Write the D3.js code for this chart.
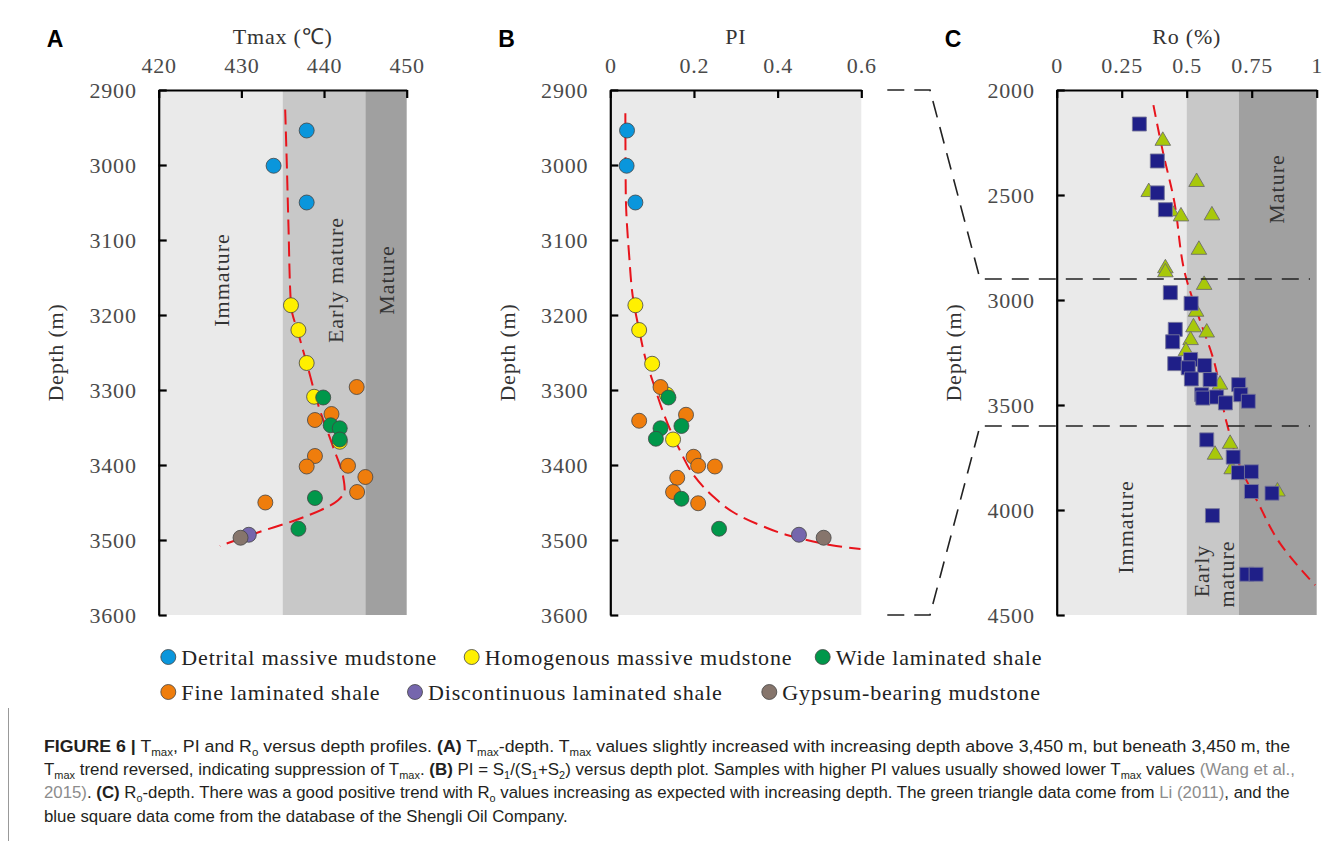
<!DOCTYPE html>
<html>
<head>
<meta charset="utf-8">
<script src="https://d3js.org/d3.v7.min.js"></script>
<style>
body { margin: 0; background: #fff; }
svg text { font-family: "Liberation Serif", "Times New Roman", serif; }
.tk text { font-size: 22px; fill: #4a4a4a; letter-spacing: 0.8px; }
.zone { font-size: 22px; fill: #333; letter-spacing: 1px; }
.cap text { font-family: "Liberation Sans Narrow", "Liberation Sans", Arial, sans-serif; }
</style>
</head>
<body>
<script>
// ---- data ----
const lithology = ["Detrital massive mudstone", "Homogenous massive mudstone", "Wide laminated shale",
                   "Fine laminated shale", "Discontinuous laminated shale", "Gypsum-bearing mudstone"];

// [lithology index, Tmax (C), depth (m)]
const tmaxSamples = [
  [0, 437.9, 2954], [0, 433.9, 3001], [0, 437.9, 3050],
  [1, 436.0, 3187], [1, 436.9, 3220], [1, 437.9, 3264], [1, 438.8, 3309], [1, 441.9, 3369],
  [3, 443.95, 3296], [3, 440.9, 3332], [3, 438.9, 3340], [3, 438.9, 3388], [3, 437.9, 3402],
  [3, 442.9, 3401], [3, 445.0, 3416], [3, 444.0, 3436], [3, 432.9, 3450],
  [2, 439.9, 3310], [2, 440.8, 3347], [2, 441.9, 3351], [2, 441.9, 3366], [2, 438.9, 3444], [2, 436.9, 3485],
  [4, 430.9, 3493], [5, 429.9, 3497]
];
// [lithology index, PI, depth (m)]
const piSamples = [
  [0, 0.040, 2954], [0, 0.039, 3001], [0, 0.060, 3050],
  [1, 0.060, 3187], [1, 0.069, 3220], [1, 0.100, 3265], [1, 0.135, 3306], [1, 0.150, 3366],
  [3, 0.120, 3296], [3, 0.181, 3333], [3, 0.069, 3341], [3, 0.199, 3389], [3, 0.210, 3401],
  [3, 0.250, 3402], [3, 0.160, 3417], [3, 0.150, 3436], [3, 0.210, 3451],
  [2, 0.139, 3310], [2, 0.120, 3351], [2, 0.170, 3348], [2, 0.109, 3365], [2, 0.170, 3445], [2, 0.260, 3485],
  [4, 0.451, 3493], [5, 0.510, 3497]
];
// Ro (%) vs depth: Li (2011) triangles, Shengli Oil Company squares
const roLi = [
  [0.408, 2242], [0.538, 2438], [0.354, 2486], [0.440, 2578], [0.478, 2602], [0.597, 2597],
  [0.547, 2761], [0.418, 2849], [0.418, 2868], [0.567, 2928], [0.536, 3056], [0.526, 3130],
  [0.577, 3155], [0.515, 3191], [0.497, 3244], [0.628, 3403], [0.667, 3685], [0.609, 3737],
  [0.673, 3806], [0.849, 3912]
];
const roShengli = [
  [0.318, 2162], [0.387, 2338], [0.387, 2490], [0.418, 2570], [0.437, 2965], [0.517, 3016],
  [0.456, 3140], [0.446, 3199], [0.515, 3283], [0.454, 3303], [0.506, 3323], [0.569, 3312],
  [0.518, 3376], [0.590, 3379], [0.700, 3403], [0.708, 3451], [0.558, 3451], [0.562, 3467],
  [0.615, 3462], [0.649, 3490], [0.737, 3482], [0.577, 3666], [0.679, 3748], [0.699, 3822],
  [0.749, 3818], [0.749, 3912], [0.828, 3920], [0.599, 4027], [0.731, 4306], [0.767, 4306]
];
// dashed trend lines [value, depth]
const trendTmax = [[435.3, 2926], [435.5, 3000], [435.7, 3082], [436.0, 3187], [436.9, 3225], [437.9, 3264],
  [439.3, 3320], [441.1, 3376], [442.3, 3415], [442.5, 3433], [441.7, 3447], [436.7, 3473], [432.0, 3490], [427.4, 3508]];
const trendPI = [[0.036, 2931], [0.037, 3038], [0.045, 3120], [0.055, 3180], [0.069, 3220], [0.085, 3260],
  [0.103, 3291], [0.130, 3335], [0.166, 3380], [0.200, 3414], [0.246, 3442], [0.300, 3465], [0.366, 3482],
  [0.420, 3493], [0.485, 3502], [0.540, 3508], [0.598, 3512]];
const trendRo = [[0.372, 2072], [0.410, 2303], [0.449, 2510], [0.497, 2892], [0.545, 3076], [0.603, 3283],
  [0.654, 3586], [0.705, 3793], [0.769, 3952], [0.859, 4159], [0.994, 4358]];

// maturity zones [from, to, name]
const tmaxZones = [[420, 435, "Immature"], [435, 445, "Early mature"], [445, 450, "Mature"]];
const roZones = [[0, 0.5, "Immature"], [0.5, 0.7, "Early mature"], [0.7, 1, "Mature"]];

const tmaxTicks = [420, 430, 440, 450];
const piTicks = [0, 0.2, 0.4, 0.6];
const roTicks = [0, 0.25, 0.5, 0.75, 1];
const depthTicksAB = [2900, 3000, 3100, 3200, 3300, 3400, 3500, 3600];
const depthTicksC = [2000, 2500, 3000, 3500, 4000, 4500];

// caption segments: b bold, s subscript, l citation
const caption = [
  [["FIGURE 6 |", "b"], [" T", ""], ["max", "s"], [", PI and R", ""], ["o", "s"], [" versus depth profiles. ", ""], ["(A)", "b"],
   [" T", ""], ["max", "s"], ["-depth. T", ""], ["max", "s"], [" values slightly increased with increasing depth above 3,450 m, but beneath 3,450 m, the", ""]],
  [["T", ""], ["max", "s"], [" trend reversed, indicating suppression of T", ""], ["max", "s"], [". ", ""], ["(B)", "b"], [" PI = S", ""], ["1", "s"],
   ["/(S", ""], ["1", "s"], ["+S", ""], ["2", "s"], [") versus depth plot. Samples with higher PI values usually showed lower T", ""], ["max", "s"],
   [" values ", ""], ["(Wang et al.,", "l"]],
  [["2015)", "l"], [". ", ""], ["(C)", "b"], [" R", ""], ["o", "s"], ["-depth. There was a good positive trend with R", ""], ["o", "s"],
   [" values increasing as expected with increasing depth. The green triangle data come from ", ""], ["Li (2011)", "l"], [", and the", ""]],
  [["blue square data come from the database of the Shengli Oil Company.", ""]]
];

// ---- drawing ----
const W = 1342, H = 841;
const top0 = 90, bot0 = 615;
const lithColor = d3.scaleOrdinal().domain(d3.range(6))
  .range(["#0a96dc", "#fff000", "#00974a", "#ef7d0c", "#7566ad", "#86756c"]);
const zoneFill = ["#eaeaea", "#c8c8c8", "#a0a0a0"];

const svg = d3.select("body").append("svg").attr("width", W).attr("height", H);
svg.append("rect").attr("width", W).attr("height", H).attr("fill", "#fff");

function panel(o) {
  const x = d3.scaleLinear().domain(o.domain).range([o.x0, o.x1]);
  const y = d3.scaleLinear().domain(o.depth).range([top0, bot0]);
  const g = svg.append("g");
  // background zones
  g.selectAll("rect.z").data(o.zones).join("rect")
    .attr("x", d => x(d[0])).attr("width", d => x(d[1]) - x(d[0]))
    .attr("y", top0).attr("height", bot0 - top0)
    .attr("fill", (d, i) => o.zones.length === 1 ? zoneFill[0] : zoneFill[i]);
  // axes
  const ax = g.append("g").attr("class", "tk").attr("transform", `translate(0,${top0})`)
    .call(d3.axisTop(x).tickValues(o.ticks).tickFormat(d => String(d)).tickSizeInner(-8).tickSizeOuter(0).tickPadding(17));
  const ay = g.append("g").attr("class", "tk").attr("transform", `translate(${o.x0},0)`)
    .call(d3.axisLeft(y).tickValues(o.depthTicks).tickFormat(d => String(d)).tickSizeInner(-8).tickSizeOuter(0).tickPadding(22));
  [ax, ay].forEach(a => {
    a.select(".domain").attr("stroke", "#000").attr("stroke-width", 2.2);
    a.selectAll(".tick line").attr("stroke", "#000").attr("stroke-width", 2.2);
  });
  // titles
  g.append("text").attr("x", (o.x0 + o.x1) / 2).attr("y", 44).attr("text-anchor", "middle")
    .style("font-size", "22px").style("fill", "#333").style("letter-spacing", "0.8px").text(o.title);
  g.append("text").attr("transform", `translate(${o.x0 - 103},${(top0 + bot0) / 2}) rotate(-90)`)
    .attr("text-anchor", "middle").attr("dominant-baseline", "central")
    .style("font-size", "22px").style("fill", "#333").style("letter-spacing", "0.8px").text("Depth (m)");
  g.append("text").attr("x", o.x0 - 112).attr("y", 47)
    .style("font-family", "'Liberation Sans', Arial, sans-serif").style("font-weight", "bold")
    .style("font-size", "23px").text(o.letter);
  return { g, x, y };
}

const line = (x, y) => d3.line().x(d => x(d[0])).y(d => y(d[1])).curve(d3.curveMonotoneY);

// Panel A
const A = panel({ x0: 158.7, x1: 406.7, domain: [420, 450], depth: [2900, 3600], zones: tmaxZones,
  ticks: tmaxTicks, depthTicks: depthTicksAB, title: "Tmax (\u2103)", letter: "A" });
[[221.7, 0], [335, 1], [386.7, 2]].forEach(([px, i]) => {
  A.g.append("text").attr("class", "zone").attr("transform", `translate(${px},280) rotate(-90)`)
    .attr("text-anchor", "middle").attr("dominant-baseline", "central").text(tmaxZones[i][2]);
});
A.g.append("path").datum(trendTmax).attr("d", line(A.x, A.y)).attr("fill", "none")
  .attr("stroke", "#e8141c").attr("stroke-width", 2).attr("stroke-dasharray", "15,7");
A.g.selectAll("circle.s").data(tmaxSamples).join("circle")
  .attr("cx", d => A.x(d[1])).attr("cy", d => A.y(d[2])).attr("r", 7.5)
  .attr("fill", d => lithColor(d[0])).attr("stroke", "#444").attr("stroke-width", 0.8);

// Panel B
const B = panel({ x0: 610.3, x1: 861.3, domain: [0, 0.6], depth: [2900, 3600], zones: [[0, 0.6, ""]],
  ticks: piTicks, depthTicks: depthTicksAB, title: "PI", letter: "B" });
B.g.append("path").datum(trendPI).attr("d", line(B.x, B.y)).attr("fill", "none")
  .attr("stroke", "#e8141c").attr("stroke-width", 2).attr("stroke-dasharray", "15,7");
B.g.selectAll("circle.s").data(piSamples).join("circle")
  .attr("cx", d => B.x(d[1])).attr("cy", d => B.y(d[2])).attr("r", 7.5)
  .attr("fill", d => lithColor(d[0])).attr("stroke", "#444").attr("stroke-width", 0.8);

// Panel C
const C = panel({ x0: 1056.7, x1: 1316.7, domain: [0, 1], depth: [2000, 4500], zones: roZones,
  ticks: roTicks, depthTicks: depthTicksC, title: "Ro (%)", letter: "C" });
C.g.append("text").attr("class", "zone").attr("transform", "translate(1276.7,189) rotate(-90)")
  .attr("text-anchor", "middle").attr("dominant-baseline", "central").text(roZones[2][2]);
C.g.append("text").attr("class", "zone").attr("transform", "translate(1125,527) rotate(-90)")
  .attr("text-anchor", "middle").attr("dominant-baseline", "central").text(roZones[0][2]);
roZones[1][2].split(" ").forEach((w, i) => {
  C.g.append("text").attr("class", "zone").attr("transform", `translate(${1201.7 + i * 25},${571 + i * 3}) rotate(-90)`)
    .attr("text-anchor", "middle").attr("dominant-baseline", "central").text(w);
});

// connector from panel B depth window to panel C
const conn = d3.line();
[2900, 3600].forEach(dp => {
  const yb = B.y(dp), yc = C.y(dp);
  svg.append("path").attr("d", conn([[B.x(0.6) + 26, yb], [930, yb], [980, yc], [1310, yc]]))
    .attr("fill", "none").attr("stroke", "#222").attr("stroke-width", 1.6).attr("stroke-dasharray", "17,10");
});

C.g.append("path").datum(trendRo).attr("d", line(C.x, C.y)).attr("fill", "none")
  .attr("stroke", "#e8141c").attr("stroke-width", 2).attr("stroke-dasharray", "12,7");
const tri = d3.symbol(d3.symbolTriangle, 105), sq = d3.symbol(d3.symbolSquare, 196);
C.g.selectAll("path.li").data(roLi).join("path").attr("class", "li")
  .attr("transform", d => `translate(${C.x(d[0])},${C.y(d[1])})`).attr("d", tri)
  .attr("fill", "#a8c80a").attr("stroke", "#6d6d6d").attr("stroke-width", 0.9);
C.g.selectAll("path.sl").data(roShengli).join("path").attr("class", "sl")
  .attr("transform", d => `translate(${C.x(d[0])},${C.y(d[1])})`).attr("d", sq)
  .attr("fill", "#1f1f88").attr("stroke", "#77779a").attr("stroke-width", 0.9);

// legend
const legPos = [[168.3, 657], [471.7, 657], [822.7, 657], [168.3, 692], [415, 692], [769.3, 692]];
const leg = svg.append("g").selectAll("g").data(lithology).join("g")
  .attr("transform", (d, i) => `translate(${legPos[i][0]},${legPos[i][1]})`);
leg.append("circle").attr("r", 7.5).attr("fill", (d, i) => lithColor(i)).attr("stroke", "#444").attr("stroke-width", 0.8);
leg.append("text").attr("x", 13).attr("y", 7.5).style("font-size", "22px").style("fill", "#222")
  .style("letter-spacing", "0.85px").text(d => d);

// caption
svg.append("line").attr("x1", 8.5).attr("x2", 8.5).attr("y1", 708).attr("y2", H).attr("stroke", "#999").attr("stroke-width", 1);
const capW = [1247, 1252, 1247, null];
const capY = [752, 775, 798, 822];
const capG = svg.append("g").attr("class", "cap");
let scaleK = 1;
caption.forEach((segs, li) => {
  const t = capG.append("text").attr("x", 0).attr("y", 0).style("font-size", "17px").style("fill", "#231f20");
  let sub = false;
  segs.forEach(([s, k]) => {
    const ts = t.append("tspan").text(s);
    if (k === "s") { ts.style("font-size", "11px"); if (!sub) ts.attr("dy", 4); sub = true; }
    else { if (sub) ts.attr("dy", -4); sub = false; }
    if (k === "b") ts.style("font-weight", "bold").style("font-family", "'Liberation Sans', Arial, sans-serif");
    if (k === "l") ts.style("fill", "#8c8c8c");
  });
  const w = t.node().getBBox().width;
  if (capW[li]) scaleK = capW[li] / w;
  t.attr("transform", `translate(44,${capY[li]}) scale(${scaleK},1)`);
});
</script>
</body>
</html>
